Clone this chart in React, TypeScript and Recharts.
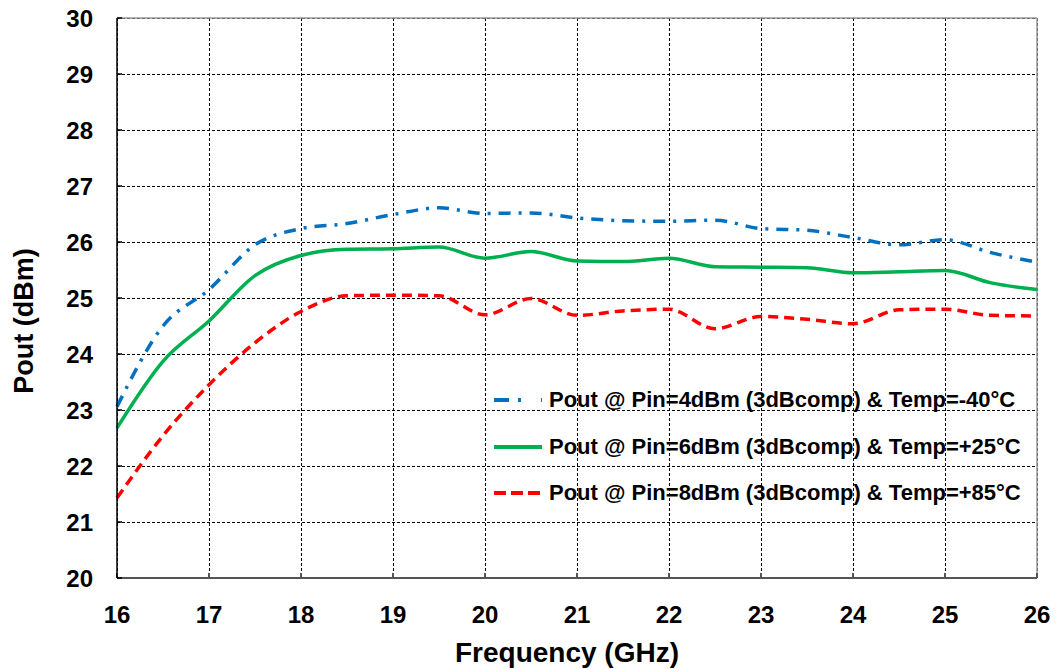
import { CartesianGrid, Label, Legend, Line, LineChart, ReferenceLine, XAxis, YAxis } from "recharts";

// frequency points (GHz)
const freqs = [16, 16.5, 17, 17.5, 18, 18.5, 19, 19.5, 20, 20.5, 21, 21.5, 22, 22.5, 23, 23.5, 24, 24.5, 25, 25.5, 26];

// Pout (dBm) per temperature
const poutMinus40 = [23.06, 24.5, 25.15, 25.95, 26.24, 26.33, 26.49, 26.61, 26.51, 26.52, 26.43, 26.38, 26.37, 26.39, 26.24, 26.21, 26.08, 25.95, 26.04, 25.81, 25.64];
const poutPlus25 = [22.68, 23.87, 24.59, 25.4, 25.76, 25.87, 25.88, 25.91, 25.71, 25.83, 25.66, 25.65, 25.71, 25.56, 25.55, 25.54, 25.45, 25.47, 25.49, 25.27, 25.15];
const poutPlus85 = [21.43, 22.54, 23.45, 24.2, 24.76, 25.04, 25.05, 25.04, 24.7, 24.99, 24.69, 24.77, 24.8, 24.45, 24.67, 24.62, 24.54, 24.79, 24.8, 24.69, 24.68];

const xTicks = [16, 17, 18, 19, 20, 21, 22, 23, 24, 25, 26];
const yTicks = [20, 21, 22, 23, 24, 25, 26, 27, 28, 29, 30];

const data = freqs.map((f, i) => ({
  f,
  m40: poutMinus40[i],
  p25: poutPlus25[i],
  p85: poutPlus85[i],
}));

const series = [
  { key: "m40", name: "Pout @ Pin=4dBm (3dBcomp) & Temp=-40°C", color: "#0070C0", dash: "12 8 3 8", iconDash: "15 9 3 20" },
  { key: "p25", name: "Pout @ Pin=6dBm (3dBcomp) & Temp=+25°C", color: "#00B050", dash: undefined, iconDash: undefined },
  { key: "p85", name: "Pout @ Pin=8dBm (3dBcomp) & Temp=+85°C", color: "#FF0000", dash: "10 6", iconDash: "12 5" },
];

const font = "Arial, 'Liberation Sans', sans-serif";

function LegendBox() {
  return (
    <div style={{ fontFamily: font, fontWeight: "bold", fontSize: 22, color: "#000" }}>
      {series.map((s) => (
        <div key={s.key} style={{ display: "flex", alignItems: "center", height: 46.5, whiteSpace: "nowrap" }}>
          <svg width={50} height={10} style={{ marginRight: 5 }}>
            <line x1={0} y1={5} x2={48} y2={5} stroke={s.color} strokeWidth={4} strokeDasharray={s.iconDash} />
          </svg>
          <span>{s.name}</span>
        </div>
      ))}
    </div>
  );
}

export default function App() {
  return (
    <div style={{ position: "absolute", left: 0, top: 0, background: "#fff" }}>
      <LineChart width={1059} height={669} data={data} margin={{ top: 18, right: 22, left: 0, bottom: 0 }}>
        <CartesianGrid stroke="#000" strokeDasharray="3 2" strokeWidth={1} shapeRendering="crispEdges" />
        <XAxis
          dataKey="f"
          type="number"
          domain={[16, 26]}
          ticks={xTicks}
          height={91}
          tickSize={-5}
          tickMargin={33}
          stroke="#555"
          strokeWidth={2}
          tick={{ fill: "#000", fontSize: 24, fontWeight: "bold", fontFamily: font }}
        >
          <Label
            content={() => (
              <text x={567} y={662} textAnchor="middle" fontFamily={font} fontWeight="bold" fontSize={28} fill="#000">
                Frequency (GHz)
              </text>
            )}
          />
        </XAxis>
        <YAxis
          type="number"
          domain={[20, 30]}
          ticks={yTicks}
          width={117}
          tickSize={-5}
          tickMargin={29}
          stroke="#000"
          strokeWidth={1.5}
          tick={{ fill: "#000", fontSize: 24, fontWeight: "bold", fontFamily: font }}
        >
          <Label
            content={() => (
              <text x={33} y={321} transform="rotate(-90 33 321)" textAnchor="middle" fontFamily={font} fontWeight="bold" fontSize={27} fill="#000">
                Pout (dBm)
              </text>
            )}
          />
        </YAxis>
        <ReferenceLine y={30} stroke="#999" strokeWidth={1.5} />
        <ReferenceLine x={26} stroke="#999" strokeWidth={1.5} />
        <Legend
          layout="vertical"
          align="center"
          verticalAlign="middle"
          content={() => <LegendBox />}
          wrapperStyle={{ left: 494, top: 377, width: "auto", height: "auto" }}
        />
        {series.map((s) => (
          <Line
            key={s.key}
            type="monotone"
            dataKey={s.key}
            name={s.name}
            stroke={s.color}
            strokeWidth={3.5}
            strokeDasharray={s.dash}
            dot={false}
            activeDot={false}
            isAnimationActive={false}
          />
        ))}
      </LineChart>
    </div>
  );
}
